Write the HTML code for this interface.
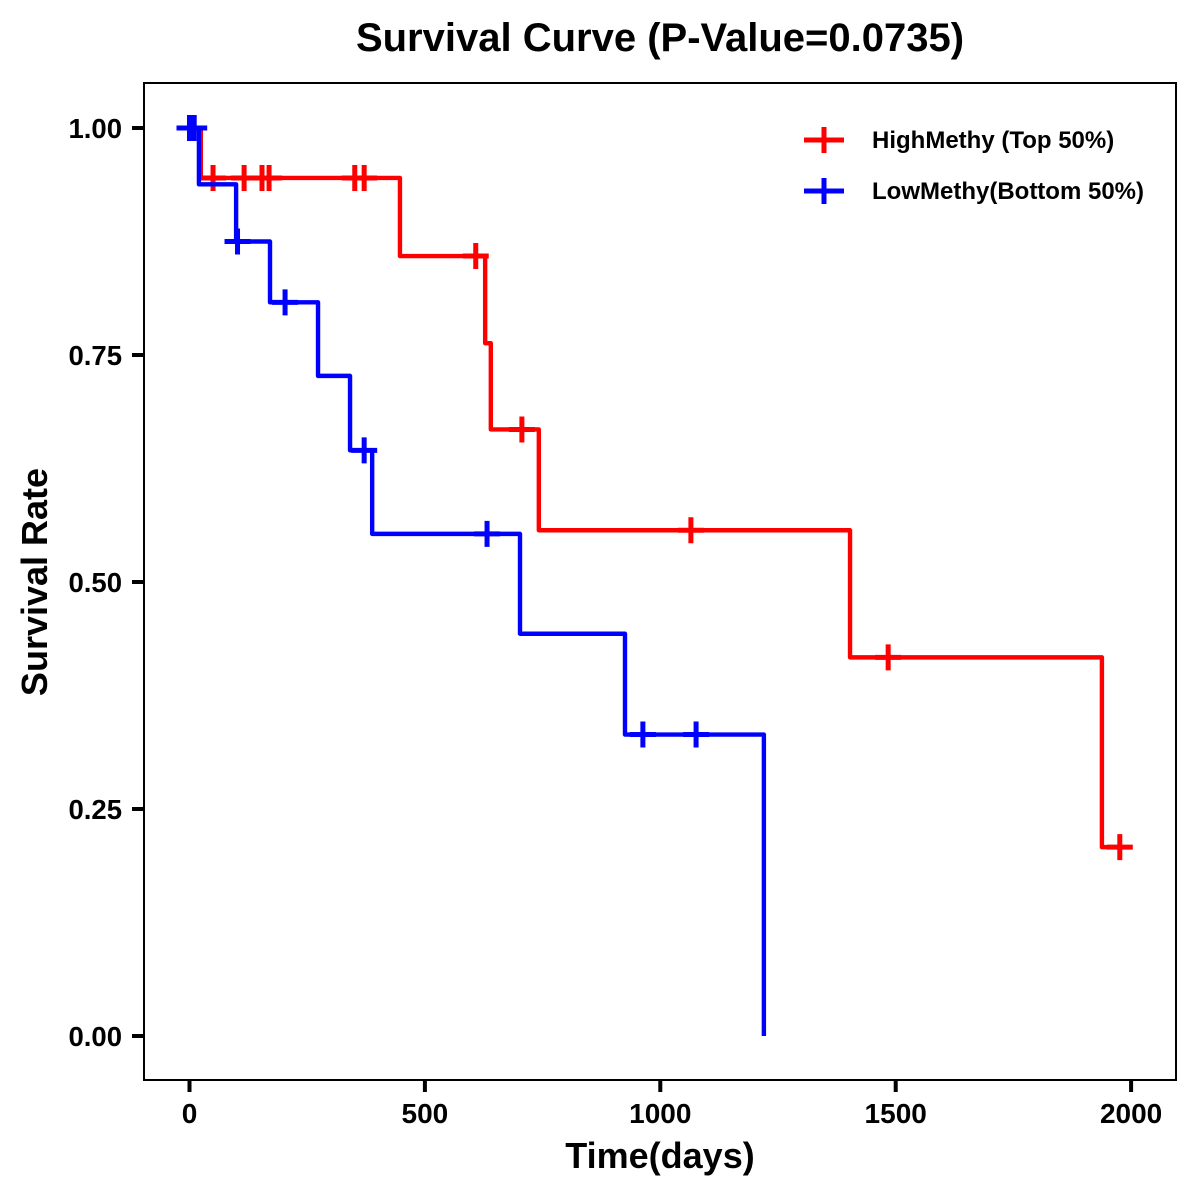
<!DOCTYPE html>
<html lang="en">
<head>
<meta charset="utf-8">
<title>Survival Curve</title>
<style>
html,body{margin:0;padding:0;background:#fff;width:1200px;height:1200px;overflow:hidden}
svg{display:block}
text{font-family:"Liberation Sans",Arial,sans-serif;font-weight:bold;fill:#000}
</style>
</head>
<body>
<svg id="chart" xmlns="http://www.w3.org/2000/svg" width="1200" height="1200" viewBox="0 0 1200 1200">
  <rect x="0" y="0" width="1200" height="1200" fill="#fff"/>
  <text x="660" y="51" text-anchor="middle" font-size="40">Survival Curve (P-Value=0.0735)</text>
  <text x="660" y="1168" text-anchor="middle" font-size="36">Time(days)</text>
  <text transform="translate(47,582) rotate(-90)" text-anchor="middle" font-size="36">Survival Rate</text>
  <g id="ticks"></g>
  <g id="series"></g>
  <rect x="144" y="83" width="1032" height="997" fill="none" stroke="#000" stroke-width="2"/>
  <g>
    <g>
      <path d="M804 140H844M824 127V153" stroke="#ff0000" stroke-width="5" fill="none"/>
      <text x="872" y="148" font-size="24">HighMethy (Top 50%)</text>
    </g>
    <g>
      <path d="M804 191H844M824 178V204" stroke="#0000ff" stroke-width="5" fill="none"/>
      <text x="872" y="199" font-size="24">LowMethy(Bottom 50%)</text>
    </g>
  </g>
</svg>
<script>
const xTickValues = [0, 500, 1000, 1500, 2000];
const yTickValues = [0, 0.25, 0.5, 0.75, 1];
const yTickLabels = ['0.00', '0.25', '0.50', '0.75', '1.00'];

const highTimes = [0, 24, 447, 628, 640, 742, 1403, 1938, 1976];
const highSurvival = [1, 0.945, 0.859, 0.763, 0.668, 0.557, 0.417, 0.208];
const highCensorTimes = [50, 116, 154, 169, 351, 371, 608, 706, 1065, 1484, 1976];

const lowTimes = [0, 20, 99, 171, 273, 341, 388, 702, 925, 1220];
const lowSurvival = [1, 0.938, 0.875, 0.808, 0.727, 0.645, 0.553, 0.443, 0.332, 0];
const lowCensorTimes = [0, 10, 102, 203, 371, 632, 963, 1076];

const NS = 'http://www.w3.org/2000/svg';
const xScale = t => 189.5 + t * 0.4708;
const yScale = s => 1036 - s * 908;

function make(tag, attrs, parent) {
  const el = document.createElementNS(NS, tag);
  for (const k in attrs) el.setAttribute(k, attrs[k]);
  parent.appendChild(el);
  return el;
}

const ticksGroup = document.getElementById('ticks');
xTickValues.forEach(v => {
  const px = xScale(v);
  const tick = make('line', {x1: px, x2: px, y1: 1080, y2: 1092, stroke: '#000', 'stroke-width': 4}, ticksGroup);
  
  
  const label = make('text', {x: px, y: 1123, 'text-anchor': 'middle', 'font-size': 28}, ticksGroup);
  
  
  label.textContent = String(v);
});
yTickValues.forEach((v, i) => {
  const py = yScale(v);
  const tick = make('line', {x1: 132, x2: 144, y1: py, y2: py, stroke: '#000', 'stroke-width': 4}, ticksGroup);
  
  
  const label = make('text', {x: 122, y: py + 10, 'text-anchor': 'end', 'font-size': 27.5}, ticksGroup);
  
  
  label.textContent = yTickLabels[i];
});

function survivalAt(times, surv, t) {
  let value = surv[0];
  for (let i = 0; i < surv.length; i++) {
    if (t >= times[i]) value = surv[i];
  }
  return value;
}

function stepPath(times, surv) {
  let d = 'M' + xScale(times[0]) + ' ' + yScale(surv[0]);
  for (let i = 0; i < surv.length; i++) {
    const next = times[i + 1];
    d += 'H' + xScale(next);
    if (i + 1 < surv.length) d += 'V' + yScale(surv[i + 1]);
  }
  return d;
}

const seriesGroup = document.getElementById('series');

function drawSeries(key, times, surv, censors, color) {
  const g = make('g', {}, seriesGroup);
  
  
  const line = make('path', {d: stepPath(times, surv), fill: 'none', stroke: color, 'stroke-width': 4.4, 'stroke-linejoin': 'round'}, g);
  
  
  censors.forEach(t => {
    const px = xScale(t);
    const py = yScale(survivalAt(times, surv, t));
    const mark = make('path', {d: 'M' + (px - 13) + ' ' + py + 'H' + (px + 13) + 'M' + px + ' ' + (py - 13) + 'V' + (py + 13), fill: 'none', stroke: color, 'stroke-width': 5}, g);
    
    
  });
}

drawSeries('high', highTimes, highSurvival, highCensorTimes, '#ff0000');
drawSeries('low', lowTimes, lowSurvival, lowCensorTimes, '#0000ff');
</script>
</body>
</html>
